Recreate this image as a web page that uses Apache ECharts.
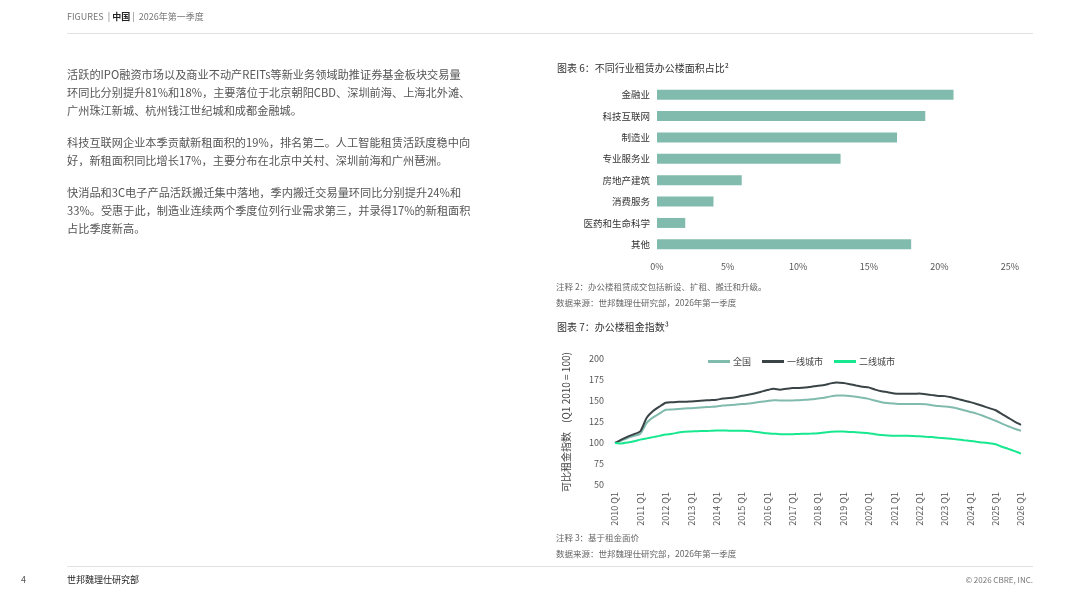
<!DOCTYPE html>
<html>
<head>
<meta charset="utf-8">
<title>中国 2026年第一季度</title>
<script src="https://cdn.jsdelivr.net/npm/echarts@6/dist/echarts.min.js"></script>
<style>
    body {
        margin: 0;
        width: 1067px;
        height: 600px;
        position: relative;
        overflow: hidden;
        background: #fff;
        font-family: "Noto Sans CJK SC", "Noto Sans", sans-serif;
        color: #555;
    }

    #chart {
        position: absolute;
        left: 0;
        top: 0;
        width: 1067px;
        height: 600px;
    }

    .abs {
        position: absolute;
        white-space: nowrap;
    }

    .head {
        left: 67px;
        top: 10px;
        font-size: 9px;
        line-height: 14px;
        color: #777;
    }

    .head b {
        color: #222;
        font-weight: bold;
    }

    .rule {
        position: absolute;
        left: 67px;
        width: 966px;
        height: 1px;
        background: #e2e2e2;
    }

    .body {
        left: 67px;
        top: 65px;
        font-size: 11.2px;
        line-height: 18px;
        color: #555;
    }

    .body p {
        margin: 0 0 14px 0;
    }

    .ctitle {
        left: 557px;
        font-size: 10px;
        line-height: 14px;
        color: #333;
    }

    .note {
        left: 556px;
        font-size: 8.5px;
        line-height: 14px;
        color: #666;
    }

    .foot {
        top: 573px;
        font-size: 9px;
        line-height: 14px;
    }
</style>
</head>

<body>
    <div id="chart"></div>

    <div class="abs head">FIGURES&nbsp; | <b>中国</b> | &nbsp;2026年第一季度</div>
    <div class="rule" style="top:33px;"></div>

    <div class="abs body">
        <p>活跃的IPO融资市场以及商业不动产REITs等新业务领域助推证券基金板块交易量<br>环同比分别提升81%和18%，主要落位于北京朝阳CBD、深圳前海、上海北外滩、<br>广州珠江新城、杭州钱江世纪城和成都金融城。</p>
        <p>科技互联网企业本季贡献新租面积的19%，排名第二。人工智能租赁活跃度稳中向<br>好，新租面积同比增长17%，主要分布在北京中关村、深圳前海和广州琶洲。</p>
        <p>快消品和3C电子产品活跃搬迁集中落地，季内搬迁交易量环同比分别提升24%和<br>33%。受惠于此，制造业连续两个季度位列行业需求第三，并录得17%的新租面积<br>占比季度新高。</p>
    </div>

    <div class="abs ctitle" style="top:61px;">图表 6：不同行业租赁办公楼面积占比²</div>
    <div class="abs note" style="top:279px;">注释 2：办公楼租赁成交包括新设、扩租、搬迁和升级。</div>
    <div class="abs note" style="top:295px;">数据来源：世邦魏理仕研究部，2026年第一季度</div>

    <div class="abs ctitle" style="top:320px;">图表 7：办公楼租金指数³</div>
    <div class="abs note" style="top:530px;">注释 3：基于租金面价</div>
    <div class="abs note" style="top:546px;">数据来源：世邦魏理仕研究部，2026年第一季度</div>

    <div class="rule" style="top:566px;"></div>
    <div class="abs foot" style="left:21px;color:#555;">4</div>
    <div class="abs foot" style="left:67px;color:#222;">世邦魏理仕研究部</div>
    <div class="abs foot" style="right:34px;color:#777;font-size:8px;">© 2026 CBRE, INC.</div>

    <script type="text/javascript">
        // 图表6：行业占比（%）
        var industries = ['金融业', '科技互联网', '制造业', '专业服务业', '房地产建筑', '消费服务', '医药和生命科学', '其他'];
        var shares = [21, 19, 17, 13, 6, 4, 2, 18];
        var shareTicks = [0, 5, 10, 15, 20, 25];

        // 图表7：租金指数（Q1 2010 = 100）
        var years = [2010, 2011, 2012, 2013, 2014, 2015, 2016, 2017, 2018, 2019, 2020, 2021, 2022, 2023, 2024, 2025, 2026];
        var quarterNames = ['Q1', 'Q2', 'Q3', 'Q4'];
        var indexTicks = [50, 75, 100, 125, 150, 175, 200];

        var national = [
            100, 103, 106, 108.5,
            111, 124, 130.5, 135,
            139.5, 140, 140.5, 141,
            141.5, 142, 142.5, 143,
            143.5, 144.5, 145, 145.5,
            146.3, 147, 148, 149,
            150, 151, 150.5, 150.5,
            150.7, 151, 151.5, 152,
            153, 154, 155.5, 156.5,
            156.5, 156, 155, 154,
            152.5, 150.5, 148.5, 147.5,
            147, 146.5, 146.5, 146.5,
            146.5, 146, 145, 144,
            143.5, 142.5, 141, 139,
            137, 135, 132.5, 129.5,
            126.5, 123, 120, 117,
            114.5
        ];
        var tier1 = [
            100, 104, 107.5, 110.5,
            114, 130, 138, 143.3,
            148, 148.5, 149, 149,
            149.5, 150, 150.5, 151,
            151.5, 153, 153.5, 154.5,
            156.2, 157.5, 159, 161,
            163, 164.5, 163.5, 164.5,
            165.4, 165.5, 166, 167,
            168.2, 169, 171, 172,
            171.3, 170, 168.5, 167,
            166.2, 163.5, 161.5, 160.5,
            159, 158.5, 158.5, 158.5,
            159, 158, 157, 156,
            155.8, 154.5, 152.5, 150.5,
            148.7, 146.5, 144, 141.5,
            139, 134.5, 130, 125.5,
            121.6
        ];
        var tier2 = [
            100, 99.5, 100.5, 102,
            104, 105.5, 107, 108.5,
            110, 111, 112.5, 113.5,
            113.7, 114, 114.3, 114.5,
            114.8, 114.8, 114.7, 114.6,
            114.5, 114.2, 113.5, 112.5,
            111.5, 111, 110.5, 110.3,
            110.5, 110.8, 111, 111.3,
            111.7, 112.5, 113.5, 113.8,
            113.6, 113.2, 112.8, 112.3,
            111.7, 110.5, 109.5, 108.8,
            108.5, 108.5, 108.5, 108.3,
            108, 107.5, 107, 106.3,
            105.7, 105, 104.2, 103.3,
            102.5, 101.5, 100.5, 99.8,
            98.5, 95.5, 93, 90.3,
            87.4
        ];

        // 季度标签，2026年只到Q1
        var quarters = [];
        years.forEach(function (y) {
            quarterNames.forEach(function (q) {
                if (y < 2026 || q == 'Q1') {
                    quarters.push(y + ' ' + q);
                }
            });
        });

        var fontCJK = '"Noto Sans CJK SC", "Noto Sans", sans-serif';
        var myChart = echarts.init(document.getElementById('chart'));

        var option = {
            animation: false,
            textStyle: { fontFamily: fontCJK },
            legend: {
                left: 703,
                top: 352,
                icon: 'rect',
                itemWidth: 22,
                itemHeight: 3,
                itemGap: 11,
                textStyle: { fontSize: 9, color: '#444', padding: [0, 0, 0, -2] },
                data: ['全国', '一线城市', '二线城市']
            },
            grid: [
                { left: 657, top: 84, width: 353, height: 171 },
                { left: 615, top: 359, width: 406, height: 126 }
            ],
            xAxis: [
                {
                    gridIndex: 0,
                    type: 'value',
                    min: shareTicks[0],
                    max: shareTicks[shareTicks.length - 1],
                    interval: 5,
                    axisLine: { show: false },
                    axisTick: { show: false },
                    splitLine: { show: false },
                    axisLabel: { formatter: '{value}%', fontSize: 9, color: '#555', margin: 7 }
                },
                {
                    gridIndex: 1,
                    type: 'category',
                    data: quarters,
                    boundaryGap: false,
                    axisLine: { show: false },
                    axisTick: { show: false },
                    axisLabel: { interval: 3, rotate: 90, fontSize: 9, color: '#555', margin: 7 }
                }
            ],
            yAxis: [
                {
                    gridIndex: 0,
                    type: 'category',
                    data: industries,
                    inverse: true,
                    axisLine: { show: false },
                    axisTick: { show: false },
                    axisLabel: { fontSize: 9.5, color: '#333', margin: 7 }
                },
                {
                    gridIndex: 1,
                    type: 'value',
                    min: indexTicks[0],
                    max: indexTicks[indexTicks.length - 1],
                    interval: 25,
                    name: '可比租金指数    (Q1 2010 = 100)',
                    nameLocation: 'middle',
                    nameRotate: 90,
                    nameGap: 44,
                    nameTextStyle: { fontSize: 10, color: '#444' },
                    axisLine: { show: false },
                    axisTick: { show: false },
                    splitLine: { show: false },
                    axisLabel: { fontSize: 9, color: '#555', margin: 11 }
                }
            ],
            series: [
                {
                    type: 'bar',
                    xAxisIndex: 0,
                    yAxisIndex: 0,
                    data: shares,
                    barWidth: 10,
                    itemStyle: { color: '#80bbad' }
                },
                {
                    name: '全国',
                    type: 'line',
                    xAxisIndex: 1,
                    yAxisIndex: 1,
                    data: national,
                    symbol: 'none',
                    smooth: 0.2,
                    lineStyle: { width: 2, color: '#80bbad' },
                    itemStyle: { color: '#80bbad' }
                },
                {
                    name: '一线城市',
                    type: 'line',
                    xAxisIndex: 1,
                    yAxisIndex: 1,
                    data: tier1,
                    symbol: 'none',
                    smooth: 0.2,
                    lineStyle: { width: 2, color: '#3a4446' },
                    itemStyle: { color: '#3a4446' }
                },
                {
                    name: '二线城市',
                    type: 'line',
                    xAxisIndex: 1,
                    yAxisIndex: 1,
                    data: tier2,
                    symbol: 'none',
                    smooth: 0.2,
                    lineStyle: { width: 2, color: '#17e88f' },
                    itemStyle: { color: '#17e88f' }
                }
            ]
        };

        myChart.setOption(option);
    </script>
</body>
</html>
